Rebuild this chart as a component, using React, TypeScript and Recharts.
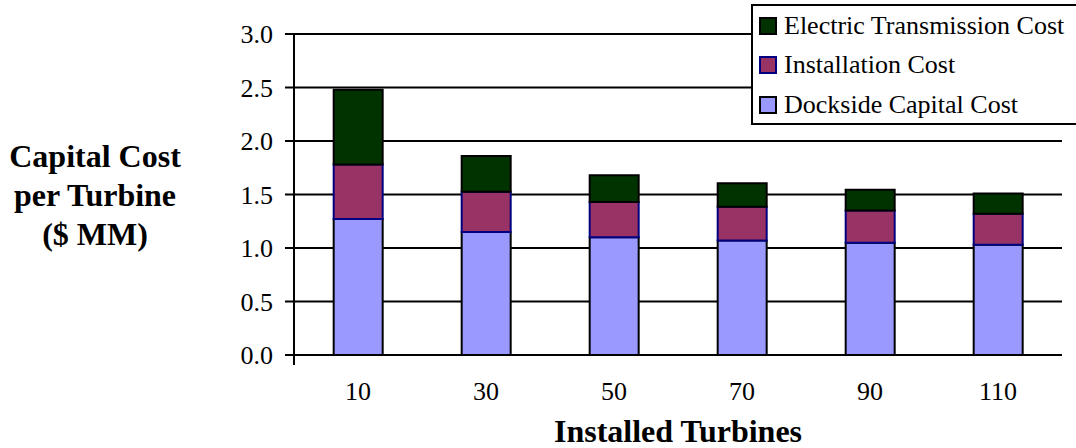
import React from 'react';
import { BarChart, Bar, XAxis, YAxis, CartesianGrid, Legend } from 'recharts';

const categories = [10, 30, 50, 70, 90, 110];
const docksideCost = [1.27, 1.15, 1.1, 1.07, 1.05, 1.03];
const installationCost = [0.51, 0.375, 0.33, 0.315, 0.3, 0.29];
const transmissionCost = [0.7, 0.335, 0.25, 0.22, 0.195, 0.19];
const yTicks = [0, 0.5, 1, 1.5, 2, 2.5, 3];
const edgeTicks = [0, 20, 40, 60, 80, 100, 120];

const seriesNames = {
  dock: 'Dockside Capital Cost',
  inst: 'Installation Cost',
  trans: 'Electric Transmission Cost',
};

const data = categories.map((c, i) => ({
  n: c,
  dock: docksideCost[i],
  inst: installationCost[i],
  trans: transmissionCost[i],
}));

const FONT = '"Liberation Serif", "Times New Roman", serif';

const legendItems = [
  { name: seriesNames.trans, fill: '#003300', stroke: '#000000' },
  { name: seriesNames.inst, fill: '#993366', stroke: '#000080' },
  { name: seriesNames.dock, fill: '#9999FF', stroke: '#000000' },
];

const LegendBox = () => (
  <div
    style={{
      boxSizing: 'border-box',
      width: 325,
      height: 121,
      border: '2px solid #000',
      borderRight: 'none',
      background: '#fff',
      fontFamily: FONT,
      fontSize: 26,
      color: '#000',
    }}
  >
    {legendItems.map((it) => (
      <div key={it.name} style={{ height: 39.5, display: 'flex', alignItems: 'center' }}>
        <div
          style={{
            boxSizing: 'border-box',
            width: 18,
            height: 18,
            marginLeft: 6,
            marginRight: 7,
            background: it.fill,
            border: `2px solid ${it.stroke}`,
          }}
        />
        <span style={{ whiteSpace: 'nowrap', lineHeight: 1 }}>{it.name}</span>
      </div>
    ))}
  </div>
);

const YTitle = (props: any) => {
  const vb = props.viewBox || {};
  const cx = (vb.x || 0) + 95;
  const cy = (vb.y || 0) + (vb.height || 0) / 2;
  return (
    <text x={cx} y={cy} textAnchor="middle" fontFamily={FONT} fontSize={32} fontWeight="bold" fill="#000">
      <tspan x={cx} y={cy - 28}>Capital Cost</tspan>
      <tspan x={cx} y={cy + 11}>per Turbine</tspan>
      <tspan x={cx} y={cy + 50}>($ MM)</tspan>
    </text>
  );
};

const XTitle = (props: any) => {
  const vb = props.viewBox || {};
  const cx = (vb.x || 0) + (vb.width || 0) / 2;
  const y = (vb.y || 0) + 87;
  return (
    <text x={cx} y={y} textAnchor="middle" fontFamily={FONT} fontSize={32} fontWeight="bold" fill="#000">
      Installed Turbines
    </text>
  );
};

export default function App() {
  return (
    <div style={{ position: 'absolute', left: 0, top: 0, width: 1076, height: 448, background: '#fff' }}>
      <BarChart
        width={1076}
        height={448}
        data={data}
        margin={{ top: 34, right: 14, left: 0, bottom: 91 }}
        barCategoryGap="31%"
        style={{ fontFamily: FONT }}
      >
        <CartesianGrid horizontal vertical={false} stroke="#000" strokeWidth={2} />
        <XAxis
          xAxisId="edges"
          type="number"
          domain={[0, 120]}
          ticks={edgeTicks}
          interval={0}
          tickFormatter={() => ''}
          tickLine={{ stroke: '#000', strokeWidth: 2 }}
          tickSize={9}
          axisLine={false}
          height={1}
        />
        <XAxis
          dataKey="n"
          height={1}
          interval={0}
          tickLine={false}
          tickSize={9}
          tickMargin={18}
          axisLine={{ stroke: '#000', strokeWidth: 2 }}
          tick={{ fill: '#000', fontSize: 26, fontFamily: FONT }}
          label={<XTitle />}
        />
        <YAxis
          width={294}
          domain={[0, 3]}
          ticks={yTicks}
          interval={0}
          tickFormatter={(v: number) => v.toFixed(1)}
          tickSize={9}
          tickMargin={12}
          tickLine={{ stroke: '#000', strokeWidth: 2 }}
          axisLine={{ stroke: '#000', strokeWidth: 2 }}
          tick={{ fill: '#000', fontSize: 26, fontFamily: FONT }}
          label={<YTitle />}
        />
        <Legend
          layout="vertical"
          align="center"
          verticalAlign="middle"
          content={() => <LegendBox />}
          wrapperStyle={{ position: 'absolute', top: 4, left: 751, width: 325, height: 121 }}
        />
        <Bar dataKey="dock" name={seriesNames.dock} stackId="a" fill="#9999FF" stroke="#000000" strokeWidth={2} isAnimationActive={false} />
        <Bar dataKey="inst" name={seriesNames.inst} stackId="a" fill="#993366" stroke="#000080" strokeWidth={2} isAnimationActive={false} />
        <Bar dataKey="trans" name={seriesNames.trans} stackId="a" fill="#003300" stroke="#000000" strokeWidth={2} isAnimationActive={false} />
      </BarChart>
    </div>
  );
}
